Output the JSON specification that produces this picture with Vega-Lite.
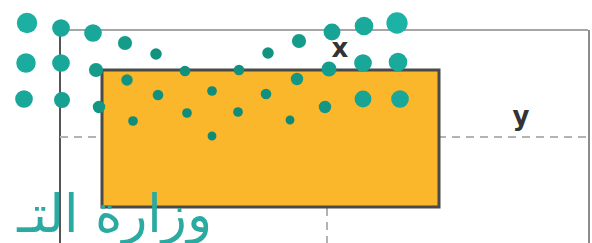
{
  "$schema": "https://vega.github.io/schema/vega-lite/v6.json",
  "width": 592,
  "height": 243,
  "autosize": {"type": "none"},
  "padding": 0,
  "background": "white",
  "config": {"view": {"stroke": null}},
  "resolve": {"scale": {"color": "independent", "size": "independent"}},
  "layer": [
    {
      "data": {"values": [
        {"part": "top", "x": 60, "x2": 588, "y": 30, "y2": 30},
        {"part": "left", "x": 60, "x2": 60, "y": 30, "y2": 243},
        {"part": "right", "x": 589, "x2": 589, "y": 30, "y2": 243}
      ]},
      "mark": {"type": "rule", "strokeWidth": 2},
      "encoding": {
        "x": {"field": "x", "type": "quantitative", "scale": {"domain": [0, 592], "nice": false, "zero": false}, "axis": null},
        "x2": {"field": "x2"},
        "y": {"field": "y", "type": "quantitative", "scale": {"domain": [0, 243], "nice": false, "zero": false, "reverse": true}, "axis": null},
        "y2": {"field": "y2"},
        "color": {"field": "part", "type": "nominal", "scale": {"domain": ["top", "left", "right"], "range": ["#a6a6a6", "#555555", "#8c8c8c"]}, "legend": null}
      }
    },
    {
      "data": {"values": [
        {"x": 60, "x2": 592, "y": 137, "y2": 137},
        {"x": 327, "x2": 327, "y": 208, "y2": 243}
      ]},
      "mark": {"type": "rule", "strokeWidth": 2, "strokeDash": [8, 6], "color": "#b3b3b3"},
      "encoding": {
        "x": {"field": "x", "type": "quantitative"},
        "x2": {"field": "x2"},
        "y": {"field": "y", "type": "quantitative"},
        "y2": {"field": "y2"}
      }
    },
    {
      "data": {"values": [{"x": 102, "x2": 439, "y": 70, "y2": 207}]},
      "mark": {"type": "rect", "fill": "#FBB72B", "stroke": "#4a4a46", "strokeWidth": 3},
      "encoding": {
        "x": {"field": "x", "type": "quantitative"},
        "x2": {"field": "x2"},
        "y": {"field": "y", "type": "quantitative"},
        "y2": {"field": "y2"}
      }
    },
    {
      "data": {"values": [
        {"label": "x", "x": 340, "y": 57},
        {"label": "y", "x": 521, "y": 125}
      ]},
      "mark": {"type": "text", "font": "DejaVu Sans", "fontSize": 26, "fontWeight": "bold", "color": "#333333", "align": "center", "baseline": "alphabetic"},
      "encoding": {
        "x": {"field": "x", "type": "quantitative"},
        "y": {"field": "y", "type": "quantitative"},
        "text": {"field": "label"}
      }
    },
    {
      "data": {"values": [
        {"x": 27, "y": 23, "r": 11.5}, {"x": 61, "y": 28, "r": 10}, {"x": 93, "y": 33, "r": 10}, {"x": 125, "y": 43, "r": 8}, {"x": 156, "y": 54, "r": 6.5},
        {"x": 268, "y": 53, "r": 6.5}, {"x": 299, "y": 41, "r": 8}, {"x": 332, "y": 32, "r": 9.5}, {"x": 364, "y": 26, "r": 10.5}, {"x": 397, "y": 23, "r": 12},
        {"x": 26, "y": 63, "r": 11}, {"x": 61, "y": 63, "r": 10}, {"x": 96, "y": 70, "r": 8}, {"x": 127, "y": 80, "r": 6.5}, {"x": 185, "y": 71, "r": 6},
        {"x": 239, "y": 70, "r": 6}, {"x": 297, "y": 79, "r": 7}, {"x": 329, "y": 69, "r": 8.5}, {"x": 363, "y": 63, "r": 10}, {"x": 398, "y": 62, "r": 10.5},
        {"x": 24, "y": 99, "r": 10}, {"x": 62, "y": 100, "r": 9}, {"x": 99, "y": 107, "r": 7}, {"x": 158, "y": 95, "r": 6}, {"x": 212, "y": 91, "r": 5.5},
        {"x": 266, "y": 94, "r": 6}, {"x": 325, "y": 107, "r": 7}, {"x": 363, "y": 99, "r": 9.5}, {"x": 400, "y": 99, "r": 10},
        {"x": 133, "y": 121, "r": 5.5}, {"x": 187, "y": 113, "r": 5.5}, {"x": 238, "y": 112, "r": 5.5}, {"x": 290, "y": 120, "r": 5},
        {"x": 212, "y": 136, "r": 5}
      ]},
      "mark": {"type": "circle", "opacity": 1},
      "encoding": {
        "x": {"field": "x", "type": "quantitative"},
        "y": {"field": "y", "type": "quantitative"},
        "size": {"field": "r", "type": "quantitative", "scale": {"type": "pow", "exponent": 2, "domain": [0, 12], "range": [0, 452]}, "legend": null},
        "color": {"field": "r", "type": "quantitative", "scale": {"domain": [5, 12], "range": ["#0f8a76", "#1cb3a6"]}, "legend": null}
      }
    },
    {
      "data": {"values": [{"label": "وزارة التـ", "x": 212, "y": 232}]},
      "mark": {"type": "text", "font": "DejaVu Sans", "fontSize": 52, "color": "#2aaaa0", "align": "right", "baseline": "alphabetic"},
      "encoding": {
        "x": {"field": "x", "type": "quantitative"},
        "y": {"field": "y", "type": "quantitative"},
        "text": {"field": "label"}
      }
    }
  ]
}
